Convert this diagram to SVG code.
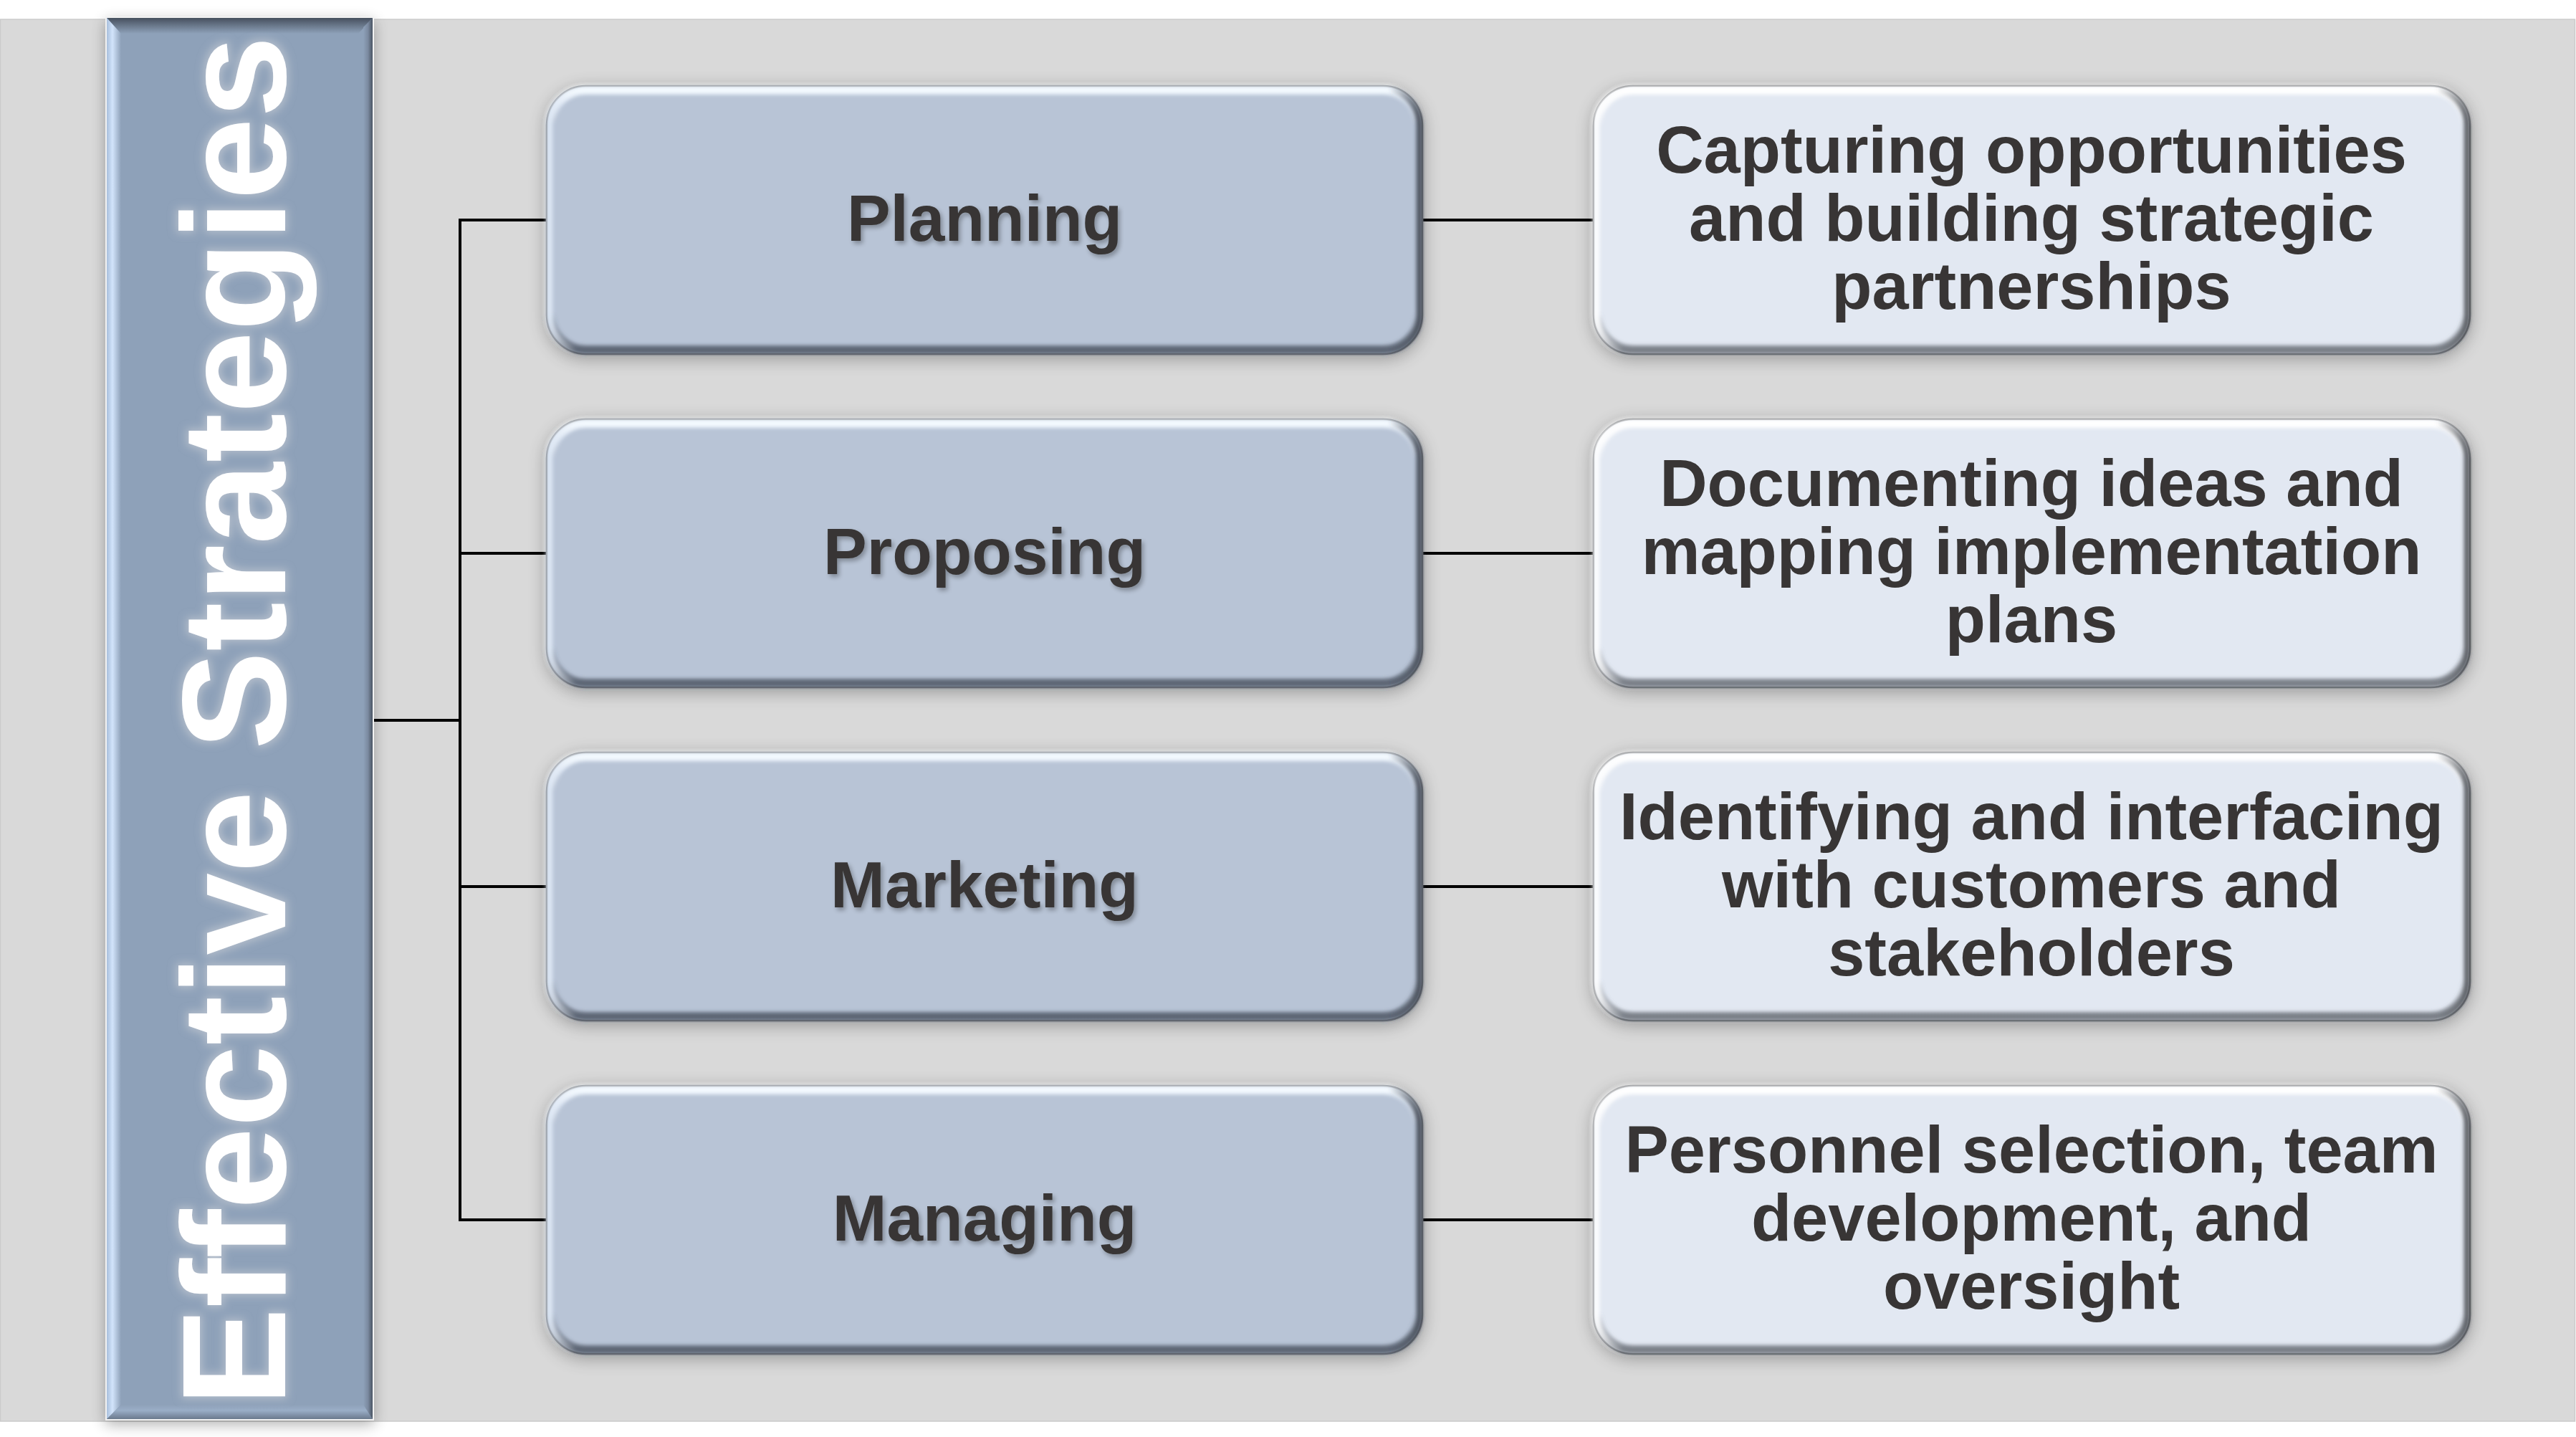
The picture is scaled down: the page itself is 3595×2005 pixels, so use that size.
<svg xmlns="http://www.w3.org/2000/svg" width="3595" height="2005" viewBox="0 0 3595 2005">
<defs>
<style>
.conn{stroke:#000;stroke-width:4;fill:none;stroke-linecap:square}
.mtxt{font-family:"Liberation Sans",Arial,sans-serif;font-weight:bold;font-size:91px;fill:#383634;text-anchor:middle}
.rtxt{font-family:"Liberation Sans",Arial,sans-serif;font-weight:bold;font-size:92px;fill:#383634;text-anchor:middle}
.ttl{font-family:"Liberation Sans",Arial,sans-serif;font-weight:bold;font-size:206px;fill:#fff;text-anchor:middle}
.mbase{fill:#b8c4d6;stroke:#6f737a;stroke-width:2.5}
.rbase{fill:#e2e8f2;stroke:#6a6d72;stroke-width:2.5}
</style>
<filter id="sh" x="-10%" y="-15%" width="120%" height="135%">
<feGaussianBlur in="SourceAlpha" stdDeviation="12"/>
<feOffset dy="5"/>
<feComponentTransfer><feFuncA type="linear" slope="0.3"/></feComponentTransfer>
<feMerge><feMergeNode/><feMergeNode in="SourceGraphic"/></feMerge>
</filter>
<filter id="barsh" x="-20%" y="-5%" width="140%" height="110%">
<feGaussianBlur in="SourceAlpha" stdDeviation="10"/>
<feOffset dy="6"/>
<feComponentTransfer><feFuncA type="linear" slope="0.3"/></feComponentTransfer>
<feMerge><feMergeNode/><feMergeNode in="SourceGraphic"/></feMerge>
</filter>
<filter id="soft" x="-5%" y="-5%" width="110%" height="110%">
<feGaussianBlur stdDeviation="2.5"/>
</filter>
<filter id="tsh" x="-10%" y="-30%" width="120%" height="160%">
<feGaussianBlur in="SourceAlpha" stdDeviation="3"/>
<feOffset dx="3" dy="4"/>
<feComponentTransfer><feFuncA type="linear" slope="0.3"/></feComponentTransfer>
<feMerge><feMergeNode/><feMergeNode in="SourceGraphic"/></feMerge>
</filter>
<filter id="glow" x="-10%" y="-10%" width="120%" height="120%">
<feMorphology in="SourceAlpha" operator="dilate" radius="3" result="d"/>
<feGaussianBlur in="d" stdDeviation="6" result="b"/>
<feFlood flood-color="#c3c9d2" flood-opacity="0.7"/>
<feComposite in2="b" operator="in"/>
<feMerge><feMergeNode/><feMergeNode in="SourceGraphic"/></feMerge>
</filter>
<linearGradient id="mbV" x1="0" y1="0" x2="0" y2="1">
<stop offset="0" stop-color="#f4faff" stop-opacity="1"/>
<stop offset="0.06" stop-color="#eaf3ff" stop-opacity="0.6"/>
<stop offset="0.13" stop-color="#ffffff" stop-opacity="0"/>
<stop offset="0.86" stop-color="#4c5462" stop-opacity="0"/>
<stop offset="1" stop-color="#4c5462" stop-opacity="0.85"/>
</linearGradient>
<linearGradient id="mbH" x1="0" y1="0" x2="1" y2="0">
<stop offset="0" stop-color="#e4eefb" stop-opacity="0.8"/>
<stop offset="0.03" stop-color="#ffffff" stop-opacity="0"/>
<stop offset="0.965" stop-color="#3c424c" stop-opacity="0"/>
<stop offset="1" stop-color="#3c424c" stop-opacity="0.85"/>
</linearGradient>
<linearGradient id="rbV" x1="0" y1="0" x2="0" y2="1">
<stop offset="0" stop-color="#ffffff" stop-opacity="1"/>
<stop offset="0.07" stop-color="#ffffff" stop-opacity="0.7"/>
<stop offset="0.14" stop-color="#ffffff" stop-opacity="0"/>
<stop offset="0.86" stop-color="#6e737b" stop-opacity="0"/>
<stop offset="1" stop-color="#6e737b" stop-opacity="0.9"/>
</linearGradient>
<linearGradient id="rbH" x1="0" y1="0" x2="1" y2="0">
<stop offset="0" stop-color="#ffffff" stop-opacity="0.9"/>
<stop offset="0.03" stop-color="#ffffff" stop-opacity="0"/>
<stop offset="0.965" stop-color="#4a4d52" stop-opacity="0"/>
<stop offset="1" stop-color="#4a4d52" stop-opacity="0.85"/>
</linearGradient>
<linearGradient id="bvTop" x1="0" y1="0" x2="0" y2="1">
<stop offset="0" stop-color="#46505e"/>
<stop offset="1" stop-color="#8ea1b9"/>
</linearGradient>
<linearGradient id="bvLeft" x1="0" y1="0" x2="1" y2="0">
<stop offset="0" stop-color="#a9bfdc"/>
<stop offset="0.4" stop-color="#d2e4fb"/>
<stop offset="1" stop-color="#8ea1b9"/>
</linearGradient>
<linearGradient id="bvRight" x1="0" y1="0" x2="1" y2="0">
<stop offset="0" stop-color="#8ea1b9"/>
<stop offset="0.5" stop-color="#7b8aa0"/>
<stop offset="1" stop-color="#4a5563"/>
</linearGradient>
<linearGradient id="bvBot" x1="0" y1="0" x2="0" y2="1">
<stop offset="0" stop-color="#8ea1b9"/>
<stop offset="0.4" stop-color="#9aaec7"/>
<stop offset="1" stop-color="#6a798d"/>
</linearGradient>
</defs>

<rect x="0" y="0" width="3595" height="2005" fill="#ffffff"/>
<rect x="0.5" y="27" width="3593" height="1956" fill="#d9d9d9" stroke="#cbcbcb" stroke-width="1.5"/>

<g id="connectors">
<path class="conn" d="M521 1005 H642"/>
<path class="conn" d="M642 307 V1702"/>
<path class="conn" d="M642 307 H763"/>
<path class="conn" d="M642 772 H763"/>
<path class="conn" d="M642 1237 H763"/>
<path class="conn" d="M642 1702 H763"/>
<path class="conn" d="M1985 307 H2224"/>
<path class="conn" d="M1985 772 H2224"/>
<path class="conn" d="M1985 1237 H2224"/>
<path class="conn" d="M1985 1702 H2224"/>
</g>

<g id="title" filter="url(#barsh)">
<rect x="148" y="24" width="373" height="1957" fill="#8ea1b9" stroke="#f2f2f2" stroke-width="2"/>
<polygon points="149,25 520,25 500,47 169,47" fill="url(#bvTop)"/>
<polygon points="149,25 169,47 169,1960 149,1980" fill="url(#bvLeft)"/>
<polygon points="520,25 520,1980 507,1966 507,38" fill="url(#bvRight)"/>
<polygon points="149,1980 169,1960 507,1960 520,1980" fill="url(#bvBot)"/>
<text class="ttl" transform="translate(398,1006) rotate(-90)" x="0" y="0" filter="url(#glow)">Effective Strategies</text>
</g>

<g id="node-planning" filter="url(#sh)">
<rect class="mbase" x="763" y="120" width="1222" height="374" rx="55"/>
<rect x="769" y="126" width="1210" height="362" rx="49" fill="none" stroke="url(#mbV)" stroke-width="12" filter="url(#soft)"/>
<rect x="767" y="124" width="1214" height="366" rx="51" fill="none" stroke="url(#mbH)" stroke-width="9" filter="url(#soft)"/>
<text class="mtxt" x="1374" y="336" filter="url(#tsh)">Planning</text>
</g>
<g id="node-proposing" filter="url(#sh)">
<rect class="mbase" x="763" y="585" width="1222" height="374" rx="55"/>
<rect x="769" y="591" width="1210" height="362" rx="49" fill="none" stroke="url(#mbV)" stroke-width="12" filter="url(#soft)"/>
<rect x="767" y="589" width="1214" height="366" rx="51" fill="none" stroke="url(#mbH)" stroke-width="9" filter="url(#soft)"/>
<text class="mtxt" x="1374" y="801" filter="url(#tsh)">Proposing</text>
</g>
<g id="node-marketing" filter="url(#sh)">
<rect class="mbase" x="763" y="1050" width="1222" height="374" rx="55"/>
<rect x="769" y="1056" width="1210" height="362" rx="49" fill="none" stroke="url(#mbV)" stroke-width="12" filter="url(#soft)"/>
<rect x="767" y="1054" width="1214" height="366" rx="51" fill="none" stroke="url(#mbH)" stroke-width="9" filter="url(#soft)"/>
<text class="mtxt" x="1374" y="1266" filter="url(#tsh)">Marketing</text>
</g>
<g id="node-managing" filter="url(#sh)">
<rect class="mbase" x="763" y="1515" width="1222" height="374" rx="55"/>
<rect x="769" y="1521" width="1210" height="362" rx="49" fill="none" stroke="url(#mbV)" stroke-width="12" filter="url(#soft)"/>
<rect x="767" y="1519" width="1214" height="366" rx="51" fill="none" stroke="url(#mbH)" stroke-width="9" filter="url(#soft)"/>
<text class="mtxt" x="1374" y="1731" filter="url(#tsh)">Managing</text>
</g>

<g id="desc-planning" filter="url(#sh)">
<rect class="rbase" x="2224" y="120" width="1223" height="374" rx="55"/>
<rect x="2230" y="126" width="1211" height="362" rx="49" fill="none" stroke="url(#rbV)" stroke-width="12" filter="url(#soft)"/>
<rect x="2228" y="124" width="1215" height="366" rx="51" fill="none" stroke="url(#rbH)" stroke-width="9" filter="url(#soft)"/>
<text class="rtxt" x="2835" y="241">Capturing opportunities</text>
<text class="rtxt" x="2835" y="336">and building strategic</text>
<text class="rtxt" x="2835" y="431">partnerships</text>
</g>
<g id="desc-proposing" filter="url(#sh)">
<rect class="rbase" x="2224" y="585" width="1223" height="374" rx="55"/>
<rect x="2230" y="591" width="1211" height="362" rx="49" fill="none" stroke="url(#rbV)" stroke-width="12" filter="url(#soft)"/>
<rect x="2228" y="589" width="1215" height="366" rx="51" fill="none" stroke="url(#rbH)" stroke-width="9" filter="url(#soft)"/>
<text class="rtxt" x="2835" y="706">Documenting ideas and</text>
<text class="rtxt" x="2835" y="801">mapping implementation</text>
<text class="rtxt" x="2835" y="896">plans</text>
</g>
<g id="desc-marketing" filter="url(#sh)">
<rect class="rbase" x="2224" y="1050" width="1223" height="374" rx="55"/>
<rect x="2230" y="1056" width="1211" height="362" rx="49" fill="none" stroke="url(#rbV)" stroke-width="12" filter="url(#soft)"/>
<rect x="2228" y="1054" width="1215" height="366" rx="51" fill="none" stroke="url(#rbH)" stroke-width="9" filter="url(#soft)"/>
<text class="rtxt" x="2835" y="1171">Identifying and interfacing</text>
<text class="rtxt" x="2835" y="1266">with customers and</text>
<text class="rtxt" x="2835" y="1361">stakeholders</text>
</g>
<g id="desc-managing" filter="url(#sh)">
<rect class="rbase" x="2224" y="1515" width="1223" height="374" rx="55"/>
<rect x="2230" y="1521" width="1211" height="362" rx="49" fill="none" stroke="url(#rbV)" stroke-width="12" filter="url(#soft)"/>
<rect x="2228" y="1519" width="1215" height="366" rx="51" fill="none" stroke="url(#rbH)" stroke-width="9" filter="url(#soft)"/>
<text class="rtxt" x="2835" y="1636">Personnel selection, team</text>
<text class="rtxt" x="2835" y="1731">development, and</text>
<text class="rtxt" x="2835" y="1826">oversight</text>
</g>
</svg>
